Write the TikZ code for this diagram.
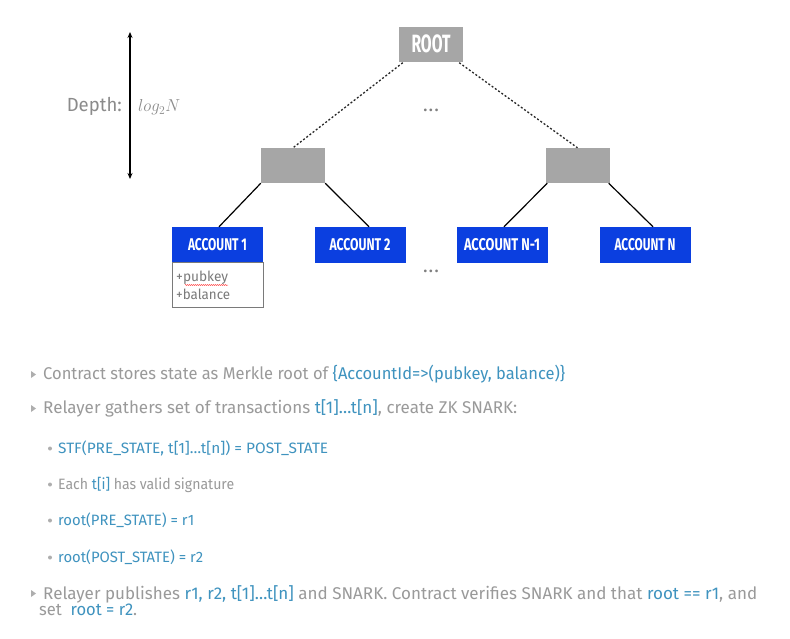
\documentclass[tikz,border=0pt]{standalone}
\usepackage{fontspec}
\setmainfont{Fira Sans}
\usepackage{graphicx}
\usetikzlibrary{calc,arrows.meta,decorations.pathmorphing}
\definecolor{txtgray}{HTML}{9A9A9A}
\definecolor{hlteal}{HTML}{3F93BF}
\definecolor{accblue}{HTML}{0B3FE0}
\definecolor{boxgray}{HTML}{A6A6A6}
\definecolor{attrgray}{HTML}{7A7A7A}
\definecolor{dotgray}{HTML}{808080}
\newcommand{\fitx}[2]{\resizebox{#1pt}{\height}{#2}}
\newcommand{\hl}[1]{\textcolor{hlteal}{#1}}
\tikzset{
  acc/.style={fill=accblue, text=white, minimum width=91pt, minimum height=36pt, inner sep=0pt,
    font=\fontsize{17}{17}\selectfont\bfseries},
  hub/.style={fill=boxgray, minimum width=64pt, minimum height=35pt, inner sep=0pt},
  attrbox/.style={draw=attrgray, line width=0.8pt, fill=white, minimum width=91pt, minimum height=45pt, inner sep=0pt},
  attrtxt/.style={anchor=base west, inner sep=0pt, text=attrgray, font=\fontsize{14}{14}\selectfont},
  bigtxt/.style={anchor=base west, inner sep=0pt, text=txtgray, font=\fontsize{17}{17}\selectfont},
  subtxt/.style={anchor=base west, inner sep=0pt, text=txtgray, font=\fontsize{15}{15}\selectfont},
  dotsty/.style={inner sep=0pt, text=dotgray, font=\fontsize{15}{15}\selectfont\bfseries},
  treedot/.style={line width=1.3pt, dash pattern=on 2pt off 2pt, draw=black!85},
  treeline/.style={line width=1.2pt},
  tri/.style={fill=txtgray!80},
  subdot/.style={fill=txtgray!80}
}
\begin{document}
\begin{tikzpicture}[x=1pt,y=-1pt]
\useasboundingbox[fill=white] (0,0) rectangle (790,639);

% tree nodes
\node[hub] (root) at (431,45) {\raisebox{2pt}{\fontsize{25}{25}\selectfont\bfseries\color{white}\fitx{39}{ROOT}}};
\node[hub] (lh) at (293,165.5) {};
\node[hub] (rh) at (577.5,165.5) {};
\node[acc] (acc1) at (217.5,245) {\raisebox{1.5pt}{\fitx{59}{ACCOUNT 1}}};
\node[acc] (acc2) at (360,245) {\raisebox{1.5pt}{\fitx{61}{ACCOUNT 2}}};
\node[acc] (acc3) at (502,245) {\raisebox{1.5pt}{\fitx{76}{ACCOUNT N-1}}};
\node[acc] (acc4) at (645,245) {\raisebox{1.5pt}{\fitx{61}{ACCOUNT N}}};
\node[attrbox] (attr) at (217.5,285) {};
\node[attrtxt] (pk) at (176,281) {\fitx{52}{+pubkey}};
\node[attrtxt] (bal) at (176,299) {\fitx{54}{+balance}};
\coordinate (sqa) at (185,285);
\coordinate (sqb) at (228,285);
\draw[red!65, line width=0.5pt, decorate, decoration={snake, amplitude=0.6pt, segment length=2pt}] (sqa) -- (sqb);

\node[dotsty] (dots1) at (431,110) {.\hspace{2pt}.\hspace{2pt}.};
\node[dotsty] (dots2) at (431,271) {.\hspace{2pt}.\hspace{2pt}.};

% connectors
\draw[treedot] ($(root.south west)+(4,0)$) -- (lh.north);
\draw[treedot] ($(root.south east)+(-4,0)$) -- (rh.north);
\draw[treeline] (lh.south west) -- ($(acc1.north)+(1.5,0)$);
\draw[treeline] (lh.south east) -- ($(acc2.north)+(9,0)$);
\draw[treeline] ($(rh.south west)+(2,0)$) -- ($(acc3.north)+(2,0)$);
\draw[treeline] ($(rh.south east)+(-1,0)$) -- ($(acc4.north)+(8,0)$);

% depth arrow
\coordinate (atop) at (130,32);
\coordinate (abot) at (130,179);
\draw[{Stealth[length=6pt,width=5pt]}-{Stealth[length=6pt,width=5pt]}, line width=1.3pt] (atop) -- (abot);
\node[anchor=base east, inner sep=0pt, text=txtgray!90!black, font=\fontsize{19}{19}\selectfont] (depth) at (122,112) {\fitx{55}{Depth:}};
\node[anchor=base west, inner sep=0pt, text=txtgray!90!black, font=\fontsize{18}{18}\selectfont] (logn) at (138,112) {\fitx{42}{$log_2N$}};

% text lines
\fill[tri] (31,371) -- (31,378) -- (36,374.5) -- cycle;
\node[bigtxt] (l1) at (43,379) {\fitx{522}{Contract stores state as Merkle root of \hl{\{AccountId=>(pubkey, balance)\}}}};
\fill[tri] (31,405) -- (31,412) -- (36,408.5) -- cycle;
\node[bigtxt] (l2) at (43,413) {\fitx{474}{Relayer gathers set of transactions \hl{t[1]…t[n]}, create ZK SNARK:}};

\fill[subdot] (50,448.5) circle (2pt);
\node[subtxt] (s1) at (58,453) {\fitx{270}{\hl{STF(PRE\_STATE, t[1]…t[n]) = POST\_STATE}}};
\fill[subdot] (50,484.5) circle (2pt);
\node[subtxt] (s2) at (58,489) {\fitx{176}{Each \hl{t[i]} has valid signature}};
\fill[subdot] (50,520.5) circle (2pt);
\node[subtxt] (s3) at (58,525) {\fitx{136}{\hl{root(PRE\_STATE) = r1}}};
\fill[subdot] (50,557.5) circle (2pt);
\node[subtxt] (s4) at (58,562) {\fitx{145}{\hl{root(POST\_STATE) = r2}}};

\fill[tri] (31,590) -- (31,597) -- (36,593.5) -- cycle;
\node[bigtxt] (l3) at (43,599) {\fitx{714}{Relayer publishes \hl{r1, r2, t[1]…t[n]} and SNARK. Contract verifies SNARK and that \hl{root == r1}, and}};
\node[bigtxt] (l4) at (39,615) {\fitx{98}{set\ \ \hl{root = r2}.}};
\end{tikzpicture}
\end{document}
